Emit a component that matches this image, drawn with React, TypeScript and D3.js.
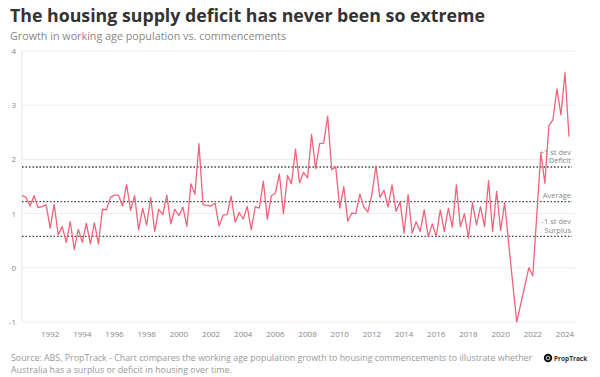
import React from "react";
import * as d3 from "d3";

const title = "The housing supply deficit has never been so extreme";
const subtitle = "Growth in working age population vs. commencements";
const footer1 =
  "Source: ABS, PropTrack - Chart compares the working age population growth to housing commencements to illustrate whether";
const footer2 = "Australia has a surplus or deficit in housing over time.";

// Quarterly series starting 1990 Q2
const startYear = 1990.25;
const growthGap: number[] = [
  1.33, 1.3, 1.14, 1.33, 1.11, 1.13, 1.16, 0.73, 1.17, 0.61,
  0.76, 0.47, 0.85, 0.34, 0.71, 0.47, 0.82, 0.44, 0.83, 0.44,
  1.08, 1.07, 1.3, 1.34, 1.34, 1.14, 1.54, 1.06, 1.33, 0.7,
  1.1, 0.79, 1.3, 0.67, 1.08, 0.98, 1.34, 0.81, 1.08, 0.96,
  1.12, 0.77, 1.55, 1.36, 2.29, 1.16, 1.15, 1.14, 1.19, 0.77,
  0.97, 0.98, 1.32, 0.84, 1.02, 0.9, 1.13, 0.7, 1.13, 1.1,
  1.6, 0.9, 1.33, 1.38, 1.73, 1.0, 1.7, 1.55, 2.19, 1.57,
  1.76, 1.66, 2.46, 1.83, 2.29, 2.3, 2.8, 1.81, 1.86, 1.1,
  1.5, 0.86, 1.01, 1.0, 1.36, 1.12, 1.03, 1.36, 1.88, 1.3,
  1.43, 1.12, 1.53, 1.04, 1.22, 0.64, 1.35, 0.64, 0.85, 0.67,
  1.07, 0.57, 0.81, 0.58, 1.07, 0.67, 1.1, 0.75, 1.53, 0.76,
  1.0, 0.55, 1.2, 0.79, 1.13, 0.76, 1.61, 0.67, 1.41, 0.69,
  1.2, 0.45, -0.28, -1.0, -0.67, -0.34, 0.0, -0.15, 0.98, 2.12,
  1.56, 2.62, 2.73, 3.3, 2.82, 3.6, 2.42,
];

const yTicks = [-1, 0, 1, 2, 3, 4];
const xTicks = [1992, 1994, 1996, 1998, 2000, 2002, 2004, 2006, 2008, 2010, 2012, 2014, 2016, 2018, 2020, 2022, 2024];

const refNames = ["plusSd", "average", "minusSd"];
const refValues = [1.86, 1.22, 0.58];
const refLabels = [["+1 st dev", "Deficit"], ["Average"], ["-1 st dev", "Surplus"]];

const FONT = "'Open Sans', 'DejaVu Sans', sans-serif";

export default function App() {
  const W = 600;
  const H = 377;
  const left = 22;
  const right = 569;
  const x = d3.scaleLinear().domain([startYear, startYear + (growthGap.length - 1) * 0.25]).range([left, right]);
  const y = d3.scaleLinear().domain([-1, 4]).range([322, 51]);

  const pts = growthGap.map((v, i) => ({ t: startYear + i * 0.25, v }));
  const line = d3
    .line<{ t: number; v: number }>()
    .x((d) => x(d.t))
    .y((d) => y(d.v));

  return (
    <svg width={W} height={H} style={{ position: "absolute", left: 0, top: 0, background: "#fff" }} fontFamily={FONT}>
      <rect width={W} height={H} fill="#fff" />
      <text x={10} y={22} fontSize={17.75} fontWeight={700} fill="#333">
        {title}
      </text>
      <text x={10} y={40} fontSize={10.75} fill="#888">
        {subtitle}
      </text>

      {/* grid */}
      {yTicks.map((t) => (
        <g key={t}>
          <line x1={left} x2={575} y1={y(t)} y2={y(t)} stroke="#ececec" strokeWidth={1} />
          <text x={16} y={y(t) + 3} fontSize={8} fill="#888" textAnchor="end">
            {t}
          </text>
        </g>
      ))}
      <line x1={left} x2={left} y1={y(4)} y2={y(-1)} stroke="#e4e4e4" strokeWidth={1} />

      {xTicks.map((t) => (
        <text key={t} x={x(t)} y={337} fontSize={8} fill="#888" textAnchor="middle">
          {t}
        </text>
      ))}

      {/* reference lines */}
      {refValues.map((v, k) => (
        <g key={refNames[k]}>
          <line
            x1={left}
            x2={572}
            y1={y(v)}
            y2={y(v)}
            stroke="#444"
            strokeWidth={1.3}
            strokeDasharray="1.6 1.9"
          />
          {refLabels[k].map((s, j) => (
            <text
              key={s}
              x={571}
              y={y(v) - 3.5 - (refLabels[k].length - 1 - j) * 8.5}
              fontSize={7.5}
              fill="#888"
              textAnchor="end"
            >
              {s}
            </text>
          ))}
        </g>
      ))}

      <path d={line(pts) || ""} fill="none" stroke="#f0647b" strokeWidth={1.3} strokeLinejoin="round" />

      <text x={11} y={361} fontSize={8.85} fill="#999">
        {footer1}
      </text>
      <text x={11} y={373} fontSize={8.85} fill="#999">
        {footer2}
      </text>

      <circle cx={548} cy={358} r={4.2} fill="#111" />
      <circle cx={548} cy={358} r={1.8} fill="none" stroke="#fff" strokeWidth={0.8} />
      <text x={554} y={360.5} fontSize={6.5} fontWeight={700} fill="#333">
        PropTrack
      </text>
    </svg>
  );
}
